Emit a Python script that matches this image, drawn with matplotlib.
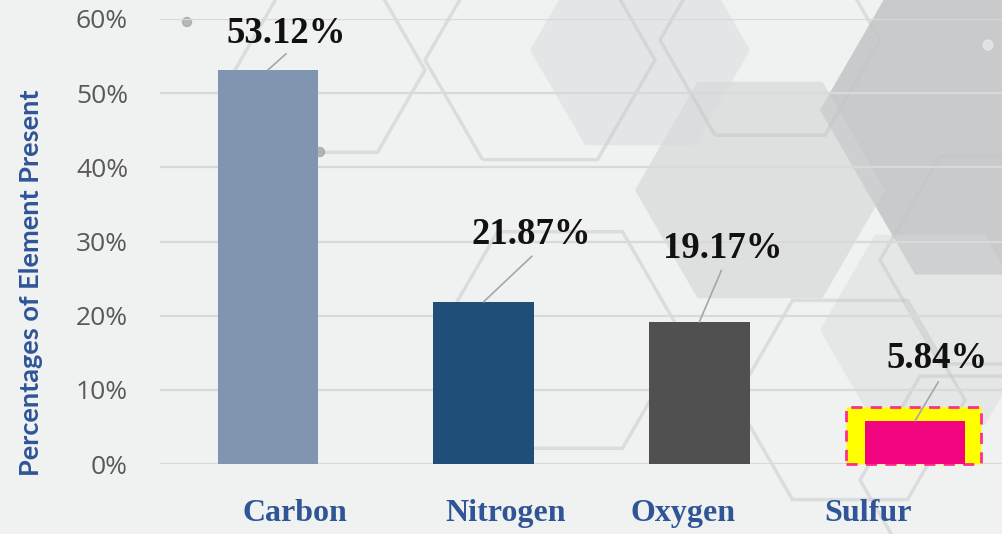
import matplotlib
matplotlib.use("Agg")
import matplotlib.pyplot as plt
from matplotlib.patches import RegularPolygon, Rectangle, Circle
import numpy as np

# ---- data ----
categories = ["Carbon", "Nitrogen", "Oxygen", "Sulfur"]
values = [53.12, 21.87, 19.17, 5.84]
value_labels = ["53.12%", "21.87%", "19.17%", "5.84%"]
ytick_values = [0, 10, 20, 30, 40, 50, 60]
ytick_labels = ["0%", "10%", "20%", "30%", "40%", "50%", "60%"]
ylabel_text = "Percentages of Element Present"

# ---- styles / layout ----
bar_colors = ["#8096B0", "#1F4E79", "#505050", "#F2037F"]
label_dx = [0.084, 0.22, 0.11, 0.10]     # data-label centre offsets (x, in category units)
label_y = [58.1, 31.0, 29.1, 14.2]       # data-label centre heights
lead_start = [(0.084, 55.3), (1.223, 28.0), (2.102, 26.1), (3.107, 11.05)]
cat_dx = [0.125, 0.10, -0.075, -0.22]

W, H = 1002, 534
fig = plt.figure(figsize=(W / 100, H / 100), dpi=100)
fig.patch.set_facecolor("#F0F1F1")

# background decoration (soft hexagons)
bg = fig.add_axes([0, 0, 1, 1], zorder=-5)
bg.set_xlim(0, W)
bg.set_ylim(H, 0)
bg.axis("off")
fills = [((1010, 110), 190, "#BDBEC0", 0.75),
         ((760, 190), 125, "#D2D3D4", 0.6),
         ((640, 50), 110, "#DADBDC", 0.5),
         ((930, 330), 110, "#D8D9DA", 0.45)]
for (cx, cy), r, c, a in fills:
    bg.add_patch(RegularPolygon((cx, cy), 6, radius=r, orientation=np.pi / 6,
                                facecolor=c, edgecolor="none", alpha=a))
outlines = [((540, 60), 115), ((560, 340), 125), ((850, 400), 115),
            ((980, 480), 120), ((330, 70), 95), ((770, 40), 110),
            ((1000, 260), 120)]
for (cx, cy), r in outlines:
    bg.add_patch(RegularPolygon((cx, cy), 6, radius=r, orientation=np.pi / 6,
                                facecolor="none", edgecolor="#C3C4C5", lw=2.5, alpha=0.45))
for (cx, cy) in [(187, 22), (320, 152)]:
    bg.add_patch(Circle((cx, cy), 4.5, color="#A0A0A0", alpha=0.7))
bg.add_patch(Circle((988, 45), 5, color="#E8E8E8", alpha=0.8))

# main axes
ax = fig.add_axes([160 / W, (H - 464) / H, 863 / W, 445 / H])
ax.set_facecolor("none")
x = np.arange(len(categories))
ax.set_xlim(-0.5, len(categories) - 0.5)
ax.set_ylim(0, 60)

ax.set_yticks(ytick_values)
ax.set_yticklabels(ytick_labels, fontfamily="Open Sans", fontsize=19, color="#595959")
ax.grid(axis="y", color="#D9D9D9", lw=1.6, zorder=0)
ax.set_axisbelow(True)
ax.tick_params(axis="y", length=0, pad=23)
ax.set_xticks([])
for s in ax.spines.values():
    s.set_visible(False)

# highlight box behind Sulfur
hi = len(categories) - 1
ax.add_patch(Rectangle((hi - 0.321, 0), 0.628, 7.7, facecolor="#FFFF00",
                       edgecolor="#FF2E8C", lw=2, ls=(0, (4, 3)), zorder=1, clip_on=False))

ax.bar(x, values, width=0.465, color=bar_colors, zorder=2)

for i, (v, lab) in enumerate(zip(values, value_labels)):
    ax.text(i + label_dx[i], label_y[i], lab, ha="center", va="center",
            fontfamily="Liberation Serif", fontweight="bold", fontsize=26.5,
            color="#111111", zorder=4, clip_on=False)
    sx, sy = lead_start[i]
    ax.plot([sx, i], [sy, v], color="#A6A6A6", lw=1.2, zorder=3, clip_on=False)

for i, c in enumerate(categories):
    ax.text(i + cat_dx[i], -6.7, c, ha="center", va="center",
            fontfamily="Liberation Serif", fontweight="bold", fontsize=23,
            color="#2F5597", clip_on=False)

fig.text(31 / W, 1 - 283 / H, ylabel_text, rotation=90, ha="center", va="center",
         fontfamily="Lato", fontweight="bold", fontsize=19.5, color="#2F5597")

fig.savefig("out.png", dpi=100, facecolor=fig.get_facecolor())
